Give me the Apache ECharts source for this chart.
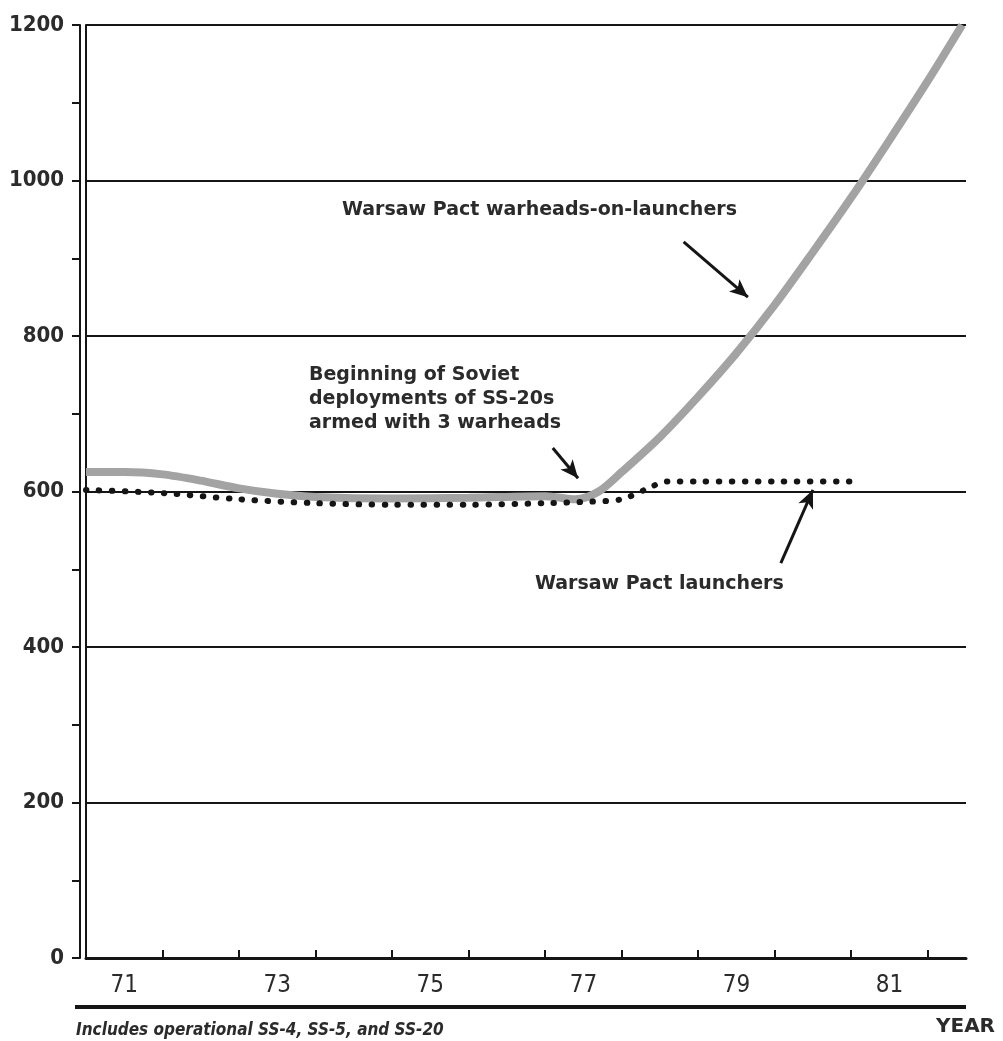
<!DOCTYPE html>
<html>
<head>
<meta charset="utf-8">
<style>
  html, body { margin: 0; padding: 0; background: #fff; }
  #chart { width: 1003px; height: 1041px; }
</style>
<script src="https://cdn.jsdelivr.net/npm/echarts@6/dist/echarts.min.js"></script>
</head>
<body>
<div id="chart"></div>
<script>
// year positions (71.0 = start of 1971) and values
const warheadYears = [71.0, 71.5, 72.0, 72.5, 73.0, 73.5, 74.0, 75.0, 76.0, 77.0, 77.4, 77.7, 78.0, 78.5, 79.0, 79.5, 80.0, 80.5, 81.0, 81.5, 82.0, 82.45]
const warheadValues = [625, 625, 622, 614, 604, 597, 593, 591, 592, 594, 590, 600, 625, 670, 722, 778, 840, 908, 978, 1052, 1128, 1200]

const launcherYears = [71.0, 72.0, 73.0, 74.0, 75.0, 76.0, 77.0, 77.6, 78.0, 78.3, 78.6, 79.0, 80.0, 81.1]
const launcherValues = [602, 598, 590, 585, 583, 583, 585, 587, 590, 602, 613, 613, 613, 613]

const yearTicks = [72, 73, 74, 75, 76, 77, 78, 79, 80, 81, 82]
const yearLabels = [71.5, 73.5, 75.5, 77.5, 79.5, 81.5]

const warheadArrow = [[78.81, 921], [79.65, 850]]
const ss20Arrow = [[77.1, 656], [77.43, 617]]
const launcherArrow = [[80.08, 508], [80.5, 602]]

const ink = '#151515'
const textColor = '#2b2b2b'
const labelFont = '"Liberation Sans Narrow", "DejaVu Sans Condensed", sans-serif'
const noteFont = '"DejaVu Sans", sans-serif'

function zip(xs, ys) {
  return xs.map((x, i) => [x, ys[i]])
}

function arrowLine(pts) {
  return [{ coord: pts[0], symbol: 'none' }, { coord: pts[1], symbol: 'arrow', symbolSize: [12, 18] }]
}

const chart = echarts.init(document.getElementById('chart'))

chart.setOption({
  animation: false,
  backgroundColor: '#fff',
  grid: {
    left: 86,
    right: 37,
    top: 25,
    bottom: 83
  },
  xAxis: {
    type: 'value',
    min: 71,
    max: 82.5,
    axisLine: { lineStyle: { color: ink, width: 3 } },
    axisTick: {
      inside: true,
      length: 8,
      customValues: yearTicks,
      lineStyle: { color: ink, width: 2 }
    },
    axisLabel: {
      customValues: yearLabels,
      formatter: (v) => String(Math.floor(v)),
      color: textColor,
      fontFamily: labelFont,
      fontSize: 24,
      margin: 16
    },
    splitLine: { show: false }
  },
  yAxis: [{
    type: 'value',
    min: 0,
    max: 1200,
    interval: 200,
    position: 'left',
    offset: 6,
    axisLine: { show: true, lineStyle: { color: ink, width: 2 } },
    axisTick: { show: true, length: 8, lineStyle: { color: ink, width: 2 } },
    minorTick: { show: true, splitNumber: 2, length: 8, lineStyle: { color: ink, width: 2 } },
    axisLabel: {
      formatter: (v) => String(v),
      color: textColor,
      fontFamily: labelFont,
      fontWeight: 'bold',
      fontSize: 22,
      margin: 16
    },
    splitLine: { show: true, lineStyle: { color: ink, width: 2 } }
  }, {
    type: 'value',
    min: 0,
    max: 1200,
    position: 'left',
    offset: 0,
    axisLine: { show: true, lineStyle: { color: ink, width: 2 } },
    axisTick: { show: false },
    axisLabel: { show: false },
    splitLine: { show: false }
  }],
  series: [{
    name: 'Warsaw Pact warheads-on-launchers',
    type: 'line',
    smooth: 0.3,
    showSymbol: false,
    data: zip(warheadYears, warheadValues),
    lineStyle: { color: '#a3a3a3', width: 8 },
    markLine: {
      silent: true,
      symbol: ['none', 'arrow'],
      label: { show: false },
      lineStyle: { color: ink, width: 3, type: 'solid' },
      data: [arrowLine(warheadArrow), arrowLine(ss20Arrow)]
    }
  }, {
    name: 'Warsaw Pact launchers',
    type: 'line',
    smooth: 0.3,
    showSymbol: false,
    data: zip(launcherYears, launcherValues),
    lineStyle: { color: ink, width: 6, type: [0.5, 12.5], cap: 'round' },
    markLine: {
      silent: true,
      symbol: ['none', 'arrow'],
      label: { show: false },
      lineStyle: { color: ink, width: 3, type: 'solid' },
      data: [arrowLine(launcherArrow)]
    }
  }],
  graphic: [
    {
      type: 'text',
      left: 342,
      top: 201,
      style: { text: 'Warsaw Pact warheads-on-launchers', fill: textColor, font: 'bold 19px ' + noteFont }
    },
    {
      type: 'text',
      left: 309,
      top: 363,
      style: {
        text: 'Beginning of Soviet\ndeployments of SS-20s\narmed with 3 warheads',
        fill: textColor,
        font: 'bold 19px ' + noteFont,
        lineHeight: 24
      }
    },
    {
      type: 'text',
      left: 535,
      top: 575,
      style: { text: 'Warsaw Pact launchers', fill: textColor, font: 'bold 19px ' + noteFont }
    },
    {
      type: 'rect',
      shape: { x: 75, y: 1005, width: 891, height: 4 },
      style: { fill: ink }
    },
    {
      type: 'text',
      left: 936,
      top: 1017,
      style: { text: 'YEAR', fill: textColor, font: 'bold 20px ' + noteFont }
    },
    {
      type: 'text',
      left: 76,
      top: 1022,
      style: { text: 'Includes operational SS-4, SS-5, and SS-20', fill: textColor, font: 'italic bold 17px ' + labelFont }
    }
  ]
})
</script>
</body>
</html>
